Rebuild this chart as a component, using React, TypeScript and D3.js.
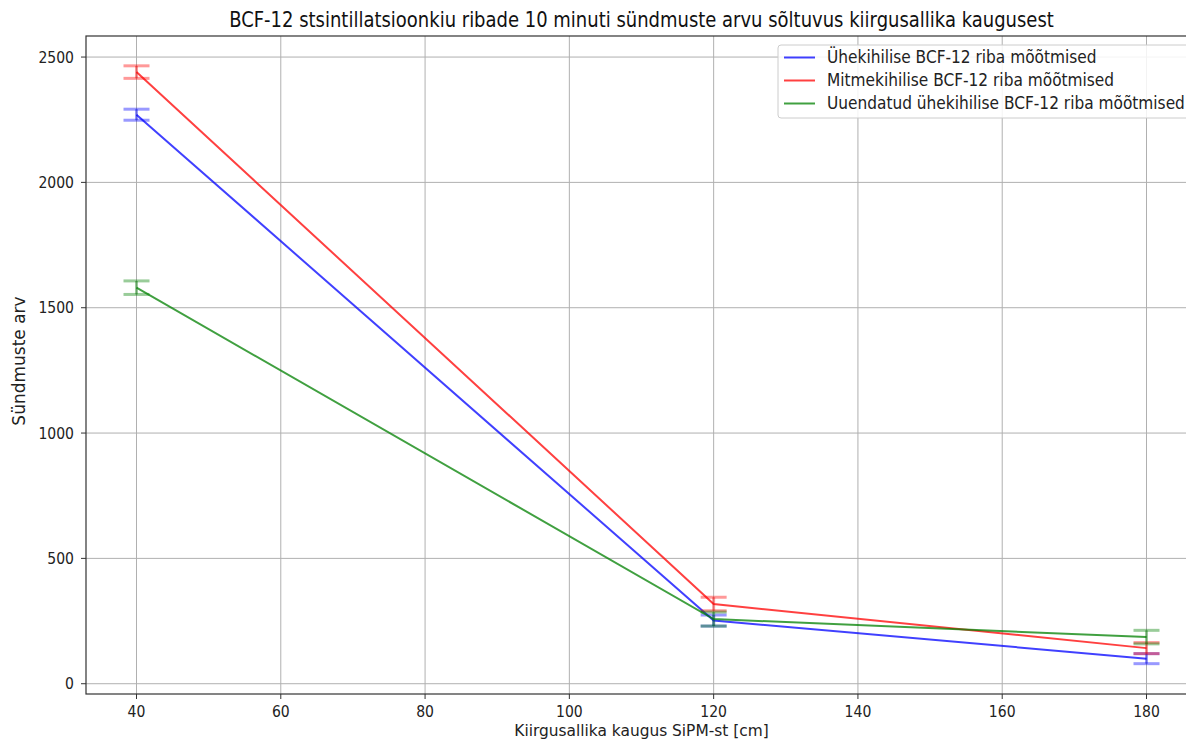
import React from "react";
import * as d3 from "d3";

const distances = [40, 120, 180];
const seriesNames = [
  "Ühekihilise BCF-12 riba mõõtmised",
  "Mitmekihilise BCF-12 riba mõõtmised",
  "Uuendatud ühekihilise BCF-12 riba mõõtmised",
];
const seriesColors = ["#0000ff", "#ff0000", "#008000"];
const singleLayer = [2270, 252, 100];
const singleLayerErr = [22, 22, 20];
const multiLayer = [2440, 318, 142];
const multiLayerErr = [25, 27, 22];
const updatedSingle = [1580, 258, 186];
const updatedSingleErr = [27, 28, 27];
const xTicks = [40, 60, 80, 100, 120, 140, 160, 180];
const yTicks = [0, 500, 1000, 1500, 2000, 2500];

const title = "BCF-12 stsintillatsioonkiu ribade 10 minuti sündmuste arvu sõltuvus kiirgusallika kaugusest";
const xLabel = "Kiirgusallika kaugus SiPM-st [cm]";
const yLabel = "Sündmuste arv";

export default function App() {
  const W = 1186, H = 740;
  const left = 86, right = 1197, top = 36, bottom = 694;
  const x = d3.scaleLinear().domain([33, 187]).range([left, right]);
  const y = d3.scaleLinear().domain([-41, 2584]).range([bottom, top]);
  const series = [
    { vals: singleLayer, err: singleLayerErr },
    { vals: multiLayer, err: multiLayerErr },
    { vals: updatedSingle, err: updatedSingleErr },
  ];
  const line = d3.line<number>().x((_, i) => x(distances[i])).y((d) => y(d));
  const font = "DejaVu Sans, sans-serif";
  const capW = 13;
  const sy = 1.15;
  const T = (px: number, py: number) => `translate(${px},${py}) scale(1,${sy})`;
  return (
    <svg width={W} height={H} style={{ position: "fixed", left: 0, top: 0, background: "#fff" }} fontFamily={font}>
      <defs>
        <clipPath id="plot">
          <rect x={left} y={top} width={right - left} height={bottom - top} />
        </clipPath>
      </defs>
      {xTicks.map((t) => (
        <line key={"gx" + t} x1={x(t)} x2={x(t)} y1={top} y2={bottom} stroke="#b0b0b0" strokeWidth={1} />
      ))}
      {yTicks.map((t) => (
        <line key={"gy" + t} x1={left} x2={right} y1={y(t)} y2={y(t)} stroke="#b0b0b0" strokeWidth={1} />
      ))}
      <g clipPath="url(#plot)">
        {series.map((s, si) => (
          <g key={si}>
            {s.vals.map((v, i) => {
              const cx = x(distances[i]);
              return (
                <g key={i} stroke={seriesColors[si]} strokeOpacity={0.4} strokeWidth={3}>
                  <line x1={cx} x2={cx} y1={y(v - s.err[i])} y2={y(v + s.err[i])} />
                  <line x1={cx - capW} x2={cx + capW} y1={y(v - s.err[i])} y2={y(v - s.err[i])} />
                  <line x1={cx - capW} x2={cx + capW} y1={y(v + s.err[i])} y2={y(v + s.err[i])} />
                </g>
              );
            })}
            <path d={line(s.vals) || ""} fill="none" stroke={seriesColors[si]} strokeOpacity={0.75} strokeWidth={2} />
          </g>
        ))}
      </g>
      <rect x={left} y={top} width={right - left} height={bottom - top} fill="none" stroke="#333" strokeWidth={1.2} />
      {xTicks.map((t) => (
        <g key={"tx" + t}>
          <line x1={x(t)} x2={x(t)} y1={bottom} y2={bottom + 5} stroke="#333" />
          <text transform={T(x(t), bottom + 23)} textAnchor="middle" fontSize={14} fill="#222">{t}</text>
        </g>
      ))}
      {yTicks.map((t) => (
        <g key={"ty" + t}>
          <line x1={left - 5} x2={left} y1={y(t)} y2={y(t)} stroke="#333" />
          <text transform={T(left - 12, y(t) + 5.5)} textAnchor="end" fontSize={14} fill="#222">{t}</text>
        </g>
      ))}
      <text transform={T((left + right) / 2, 27)} textAnchor="middle" fontSize={18} fill="#111">{title}</text>
      <text x={(left + right) / 2} y={736} textAnchor="middle" fontSize={15.4} fill="#222">{xLabel}</text>
      <text transform="translate(25,361) rotate(-90)" textAnchor="middle" fontSize={17} fill="#222">{yLabel}</text>
      <g>
        <rect x={778} y={45} width={420} height={73} rx={3} fill="#fff" fillOpacity={0.85} stroke="#ccc" />
        {seriesNames.map((n, i) => (
          <g key={n}>
            <line x1={784} x2={815} y1={57.5 + i * 23} y2={57.5 + i * 23} stroke={seriesColors[i]} strokeOpacity={0.75} strokeWidth={2} />
            <text transform={T(827, 57.5 + i * 23 + 5.5)} fontSize={15.4} fill="#222">{n}</text>
          </g>
        ))}
      </g>
    </svg>
  );
}
